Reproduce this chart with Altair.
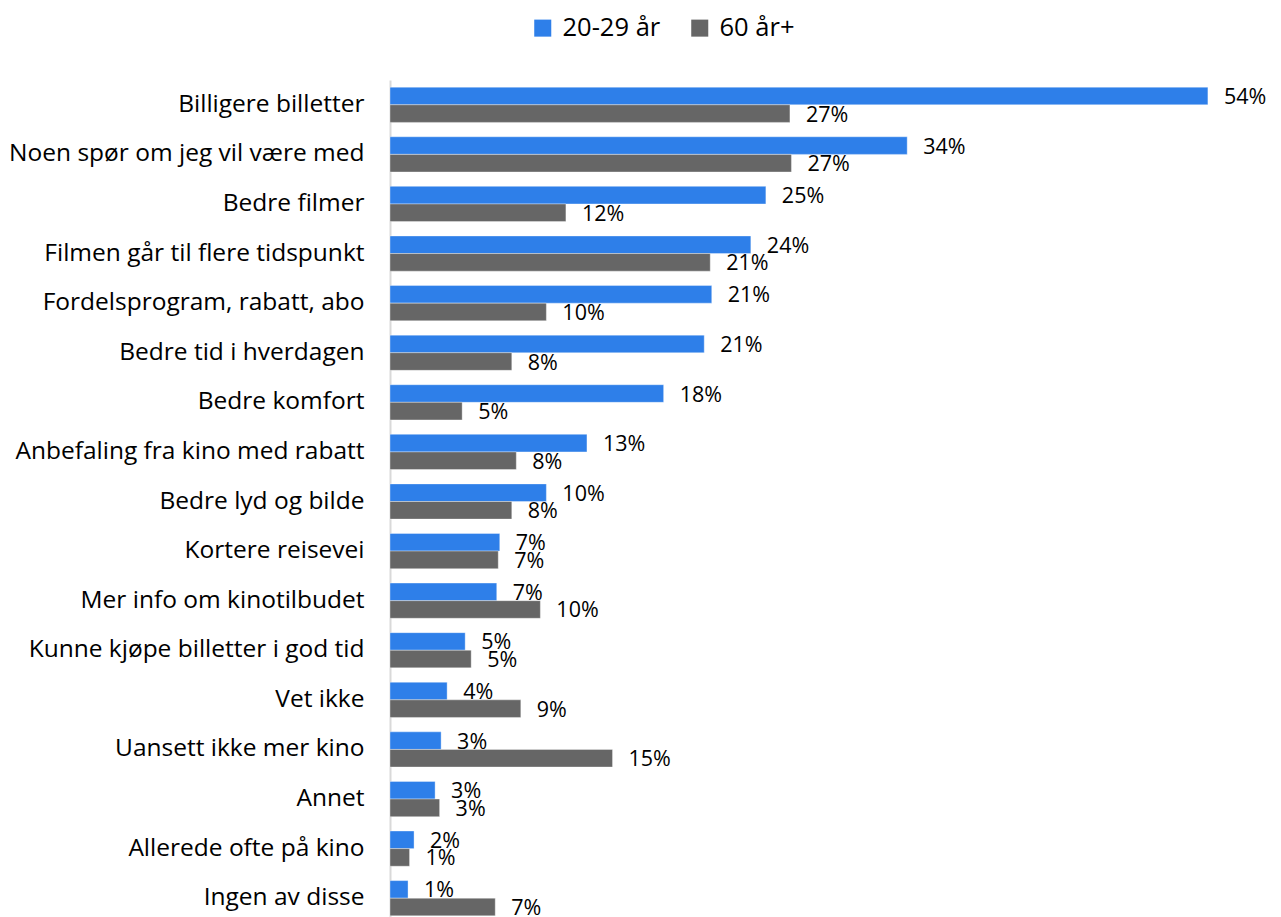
import altair as alt
import pandas as pd

categories = [
    "Billigere billetter", "Noen spør om jeg vil være med", "Bedre filmer",
    "Filmen går til flere tidspunkt", "Fordelsprogram, rabatt, abo",
    "Bedre tid i hverdagen", "Bedre komfort", "Anbefaling fra kino med rabatt",
    "Bedre lyd og bilde", "Kortere reisevei", "Mer info om kinotilbudet",
    "Kunne kjøpe billetter i god tid\u00a0", "Vet ikke", "Uansett ikke mer kino",
    "Annet", "Allerede ofte på kino", "Ingen av disse",
]
young = [54.4, 34.4, 25.0, 24.0, 21.4, 20.9, 18.2, 13.1, 10.4, 7.3, 7.1, 5.0, 3.8, 3.4, 3.0, 1.6, 1.2]
old = [26.6, 26.7, 11.7, 21.3, 10.4, 8.1, 4.8, 8.4, 8.1, 7.2, 10.0, 5.4, 8.7, 14.8, 3.3, 1.3, 7.0]
series = ["20-29 år", "60 år+"]
colors = ["#2E7FE9", "#666666"]

rows = []
for i, c in enumerate(categories):
    rows.append({"cat": c, "serie": series[0], "v": young[i] / 100})
    rows.append({"cat": c, "serie": series[1], "v": old[i] / 100})
df = pd.DataFrame(rows)

FONT = "Open Sans"

y = alt.Y("cat:N", sort=categories,
          scale=alt.Scale(paddingInner=0.29, paddingOuter=0.145),
          axis=alt.Axis(title=None, ticks=False, labelFontSize=24.5, labelColor="#000000",
                        labelFont=FONT, labelPadding=26, labelLimit=400,
                        domainColor="#D9D9D9", domainWidth=2))
x = alt.X("v:Q", scale=alt.Scale(domain=[0, 0.572], nice=False, zero=True), axis=None)
yoff = alt.YOffset("serie:N", sort=series, scale=alt.Scale(paddingInner=0, paddingOuter=0))

base = alt.Chart(df).encode(y=y, yOffset=yoff, x=x)

bars = base.mark_bar(stroke="#FFFFFF", strokeWidth=0.6, strokeOpacity=0.6).encode(
    color=alt.Color("serie:N", sort=series,
                    scale=alt.Scale(domain=series, range=colors),
                    legend=alt.Legend(title=None, orient="none", direction="horizontal",
                                      legendX=140, legendY=-65, symbolType="square",
                                      symbolSize=290, symbolStrokeWidth=0,
                                      labelFontSize=25.5, labelFont=FONT, labelColor="#000000",
                                      labelOffset=7, columnPadding=26, labelLimit=300))
)

text = base.mark_text(align="left", baseline="middle", dx=16, dy=2, fontSize=21.5,
                      font=FONT, color="#000000").encode(
    text=alt.Text("v:Q", format=".0%")
)

chart = (bars + text).properties(
    width=860, height=843,
    padding={"left": 382, "top": 72, "right": 20, "bottom": 0},
    autosize=alt.AutoSizeParams(type="none"),
).configure(font=FONT).configure_view(stroke=None)

chart.save("out.html", embed_options={"renderer": "svg", "actions": False})
